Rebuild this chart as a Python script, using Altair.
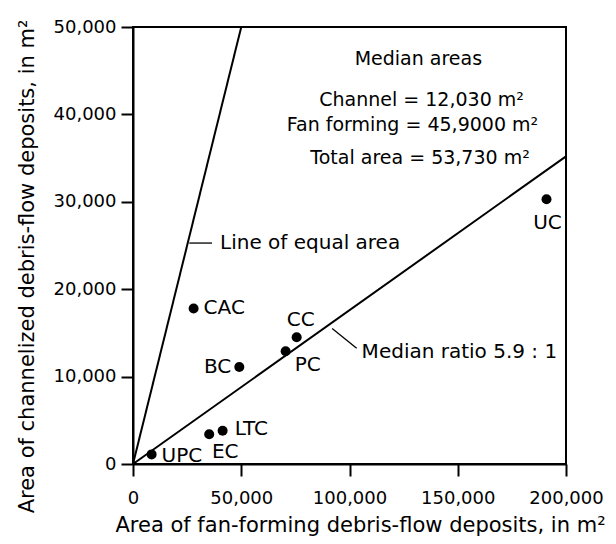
import altair as alt
import pandas as pd

F = "DejaVu Sans"

# ---- data ----
names = ["UPC", "EC", "LTC", "BC", "CAC", "PC", "CC", "UC"]
fan_area = [8600, 35200, 41400, 49100, 28000, 70500, 75600, 191000]
channel_area = [1100, 3400, 3800, 11100, 17800, 12900, 14500, 30300]

line_names = ["equal", "equal", "median", "median"]
line_x = [0, 50000, 0, 200000]
line_y = [0, 50000, 0, 35200]

x_ticks = [0, 50000, 100000, 150000, 200000]
y_ticks = [0, 10000, 20000, 30000, 40000, 50000]

note_text = ["Median areas", "Channel = 12,030 m²", "Fan forming = 45,9000 m²", "Total area = 53,730 m²"]
note_x = [131800, 133300, 129100, 132600]
note_y = [46300, 41640, 38780, 35060]

leader_id = ["eq", "eq", "med", "med"]
leader_x = [26000, 36500, 92000, 103300]
leader_y = [25280, 25280, 15500, 13250]

callout_text = ["Line of equal area", "Median ratio 5.9 : 1"]
callout_x = [40200, 105600]
callout_y = [25280, 12850]

pts = pd.DataFrame({"name": names, "fan": fan_area, "chan": channel_area})
lines = pd.DataFrame({"s": line_names, "fan": line_x, "chan": line_y})
notes = pd.DataFrame({"t": note_text, "fan": note_x, "chan": note_y})
leaders = pd.DataFrame({"id": leader_id, "fan": leader_x, "chan": leader_y})
callouts = pd.DataFrame({"t": callout_text, "fan": callout_x, "chan": callout_y})

X = alt.X("fan:Q", scale=alt.Scale(domain=[0, 200000], nice=False, zero=True),
          axis=alt.Axis(values=x_ticks, format=",d", labelOverlap=False, labelFlush=False,
                        title="Area of fan-forming debris-flow deposits, in m²",
                        titleX=227, titleY=67, titleBaseline="alphabetic", titleAlign="center",
                        labelPadding=13, tickSize=12))
Y = alt.Y("chan:Q", scale=alt.Scale(domain=[0, 50000], nice=False, zero=True),
          axis=alt.Axis(values=y_ticks, format=",d", labelOverlap=False, labelFlush=False,
                        title="Area of channelized debris-flow deposits, in m²",
                        titleX=-100, titleY=239, titleBaseline="alphabetic", titleAlign="center",
                        labelPadding=5, tickSize=12))

line_layer = alt.Chart(lines).mark_line(color="black", strokeWidth=2).encode(
    x=X, y=Y, detail="s:N")

leader_layer = alt.Chart(leaders).mark_line(color="black", strokeWidth=1.3).encode(
    x="fan:Q", y="chan:Q", detail="id:N")

point_layer = alt.Chart(pts).mark_circle(color="black", opacity=1, size=100).encode(
    x="fan:Q", y="chan:Q")


def lab(name, dx, dy, align):
    return alt.Chart(pts).transform_filter(alt.datum.name == name).mark_text(
        dx=dx, dy=dy, align=align, baseline="middle", font=F, fontSize=20, color="black"
    ).encode(x="fan:Q", y="chan:Q", text="name:N")


labels = [
    lab("UPC", 10, 2, "left"),
    lab("EC", 16, 18, "center"),
    lab("LTC", 12, -2, "left"),
    lab("BC", -8, 0, "right"),
    lab("CAC", 10, 0, "left"),
    lab("CC", 4, -17, "center"),
    lab("PC", 9, 14, "left"),
    lab("UC", 1, 24, "center"),
]

note_layer = alt.Chart(notes).mark_text(
    align="center", baseline="middle", font=F, fontSize=19, color="black"
).encode(x="fan:Q", y="chan:Q", text="t:N")

callout_layer = alt.Chart(callouts).mark_text(
    align="left", baseline="middle", font=F, fontSize=20, color="black"
).encode(x="fan:Q", y="chan:Q", text="t:N")

chart = alt.layer(
    line_layer, leader_layer, point_layer, *labels, note_layer, callout_layer
).properties(
    width=433, height=437,
    background="white",
    autosize=alt.AutoSizeParams(type="none"),
    padding={"left": 125, "top": 19, "right": 42, "bottom": 72},
).configure_view(
    stroke="black", strokeWidth=2
).configure_axis(
    grid=False, domainColor="black", domainWidth=2, tickColor="black", tickWidth=2,
    labelFont=F, labelFontSize=18, labelColor="black",
    titleFont=F, titleFontSize=21, titleFontWeight="normal", titleColor="black",
)

chart.save("out.html", embed_options={"renderer": "svg", "actions": False})
